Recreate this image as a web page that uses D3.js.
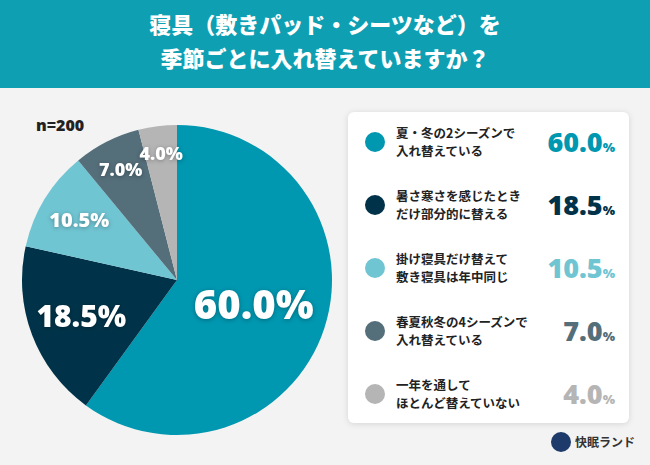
<!DOCTYPE html>
<html><head><meta charset="utf-8">
<script src="https://cdn.jsdelivr.net/npm/d3@7"></script>
<style>body{margin:0}svg{display:block}</style>
</head><body>
<svg id="c" width="650" height="465"></svg>
<script>
var labels = [["夏・冬の2シーズンで","入れ替えている"],["暑さ寒さを感じたとき","だけ部分的に替える"],["掛け寝具だけ替えて","敷き寝具は年中同じ"],["春夏秋冬の4シーズンで","入れ替えている"],["一年を通して","ほとんど替えていない"]];
var values = [60.0, 18.5, 10.5, 7.0, 4.0];
var colors = ["#0097b0", "#003349", "#70c5d3", "#546e7a", "#b5b5b5"];
var titleLines = ["寝具（敷きパッド・シーツなど）を", "季節ごとに入れ替えていますか？"];

var svg = d3.select("#c"),
    font = "'Noto Sans CJK JP', sans-serif";

svg.append("rect").attr("width", 650).attr("height", 465).attr("fill", "#f3f3f3");
svg.append("rect").attr("width", 650).attr("height", 88).attr("fill", "#0f9fb3");
svg.selectAll(".title").data(titleLines).enter().append("text")
    .attr("x", 325).attr("y", function(d, i) { return 33 + i * 34; })
    .attr("text-anchor", "middle").attr("fill", "#fff")
    .attr("font-family", font).attr("font-weight", 900).attr("font-size", 22)
    .text(function(d) { return d; });

svg.append("text").attr("x", 36).attr("y", 131)
    .attr("font-family", "'Noto Sans', sans-serif").attr("font-weight", 900)
    .attr("font-size", 16).attr("fill", "#222").text("n=200");

var cx = 177, cy = 280, r = 155;
var pie = d3.pie().sort(null).value(function(d) { return d; });
var arc = d3.arc().innerRadius(0).outerRadius(r);
var arcs = pie(values);
var g = svg.append("g").attr("transform", "translate(" + cx + "," + cy + ")");
g.selectAll("path").data(arcs).enter().append("path")
    .attr("d", arc).attr("fill", function(d, i) { return colors[i]; });

var labelR = [0.52, 0.66, 0.74, 0.8, 0.82];
var labelSize = [40, 30, 20, 18, 18];
g.selectAll(".pl").data(arcs).enter().append("text")
    .attr("transform", function(d, i) {
      var a = (d.startAngle + d.endAngle) / 2, rr = r * labelR[i];
      return "translate(" + (Math.sin(a) * rr) + "," + (-Math.cos(a) * rr) + ")";
    })
    .attr("text-anchor", "middle").attr("dy", "0.35em")
    .attr("font-family", "'Noto Sans', sans-serif").attr("font-weight", 900)
    .attr("font-size", function(d, i) { return labelSize[i]; })
    .attr("fill", "#fff")
    .style("filter", "drop-shadow(0 1px 2px rgba(0,0,0,0.3))")
    .text(function(d, i) { return values[i].toFixed(1) + "%"; });

svg.append("rect").attr("x", 348).attr("y", 112).attr("width", 281).attr("height", 311)
    .attr("rx", 6).attr("fill", "#fff")
    .style("filter", "drop-shadow(0 1px 3px rgba(0,0,0,0.12))");

var y = d3.scalePoint().domain(d3.range(values.length)).range([142, 394]);
var rows = svg.selectAll(".row").data(values).enter().append("g")
    .attr("transform", function(d, i) { return "translate(0," + y(i) + ")"; });
rows.append("circle").attr("cx", 375).attr("cy", 0).attr("r", 10)
    .attr("fill", function(d, i) { return colors[i]; });
rows.each(function(d, i) {
  d3.select(this).selectAll("text.l").data(labels[i]).enter().append("text")
      .attr("x", 396).attr("y", function(t, j) { return j * 18 - 4; })
      .attr("font-family", font).attr("font-weight", 700).attr("font-size", 12.5)
      .attr("fill", "#222").text(function(t) { return t; });
});
var vt = rows.append("text").attr("x", 615).attr("y", 10).attr("text-anchor", "end")
    .attr("font-family", "'Noto Sans', sans-serif").attr("font-weight", 900)
    .attr("fill", function(d, i) { return colors[i]; });
vt.append("tspan").attr("font-size", 27).text(function(d) { return d.toFixed(1); });
vt.append("tspan").attr("font-size", 13).text("%");

svg.append("circle").attr("cx", 561).attr("cy", 442).attr("r", 10).attr("fill", "#1d3a6b");
svg.append("text").attr("x", 575).attr("y", 447).attr("font-family", font)
    .attr("font-weight", 700).attr("font-size", 12).attr("fill", "#333").text("快眠ランド");
</script>
</body></html>
